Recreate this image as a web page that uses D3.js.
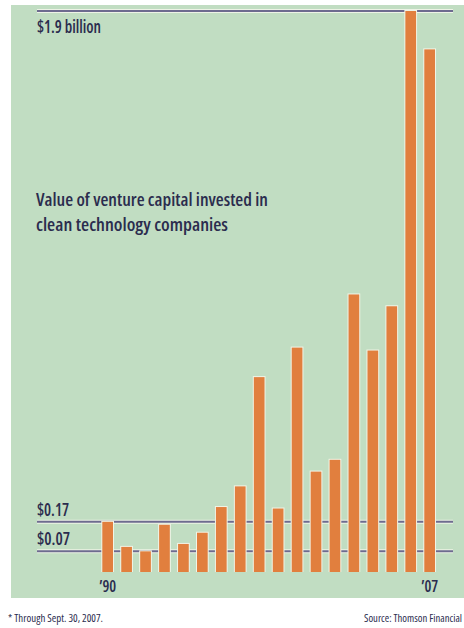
<!DOCTYPE html>
<html>
<head>
<meta charset="utf-8">
<script src="https://cdn.jsdelivr.net/npm/d3@7"></script>
<style>
  html, body { margin: 0; padding: 0; background: #ffffff; }
  svg { display: block; }
  text { font-family: "Open Sans", "DejaVu Sans Condensed", sans-serif; font-stretch: 75%; font-weight: 600; fill: #2b2c4e; }
  .note { font-weight: 400; }
</style>
</head>
<body>
<svg id="chart" width="464" height="628"></svg>
<script>
// Venture capital invested in clean technology companies, $ billions
const years = [1990, 1991, 1992, 1993, 1994, 1995, 1996, 1997, 1998,
               1999, 2000, 2001, 2002, 2003, 2004, 2005, 2006, 2007];
const values = [0.17, 0.085, 0.07, 0.16, 0.095, 0.133, 0.22, 0.29, 0.66,
                0.215, 0.76, 0.34, 0.38, 0.94, 0.75, 0.90, 1.9, 1.77];
const refValues = [0.07, 0.17, 1.9];
const refLabels = ["$0.07", "$0.17", "$1.9 billion"];
const refLabelWidths = [33, 32, 64];
const yearTicks = [1990, 2007];
const yearTickLabels = ["\u201990", "\u201907"];
const titleLines = ["Value of venture capital invested in", "clean technology companies"];
const titleWidths = [232, 192];
const footnote = "* Through Sept. 30, 2007.";
const source = "Source: Thomson Financial";

const svg = d3.select("#chart");

// panel background
svg.append("rect")
  .attr("x", 11).attr("y", 5)
  .attr("width", 453).attr("height", 593)
  .attr("fill", "#c1ddc2");

const x = d3.scaleBand()
  .domain(years)
  .range([102.3, 435])
  .paddingInner(0.435)
  .paddingOuter(0);

const y = d3.scaleLinear()
  .domain([0, 1.9])
  .range([572, 11]);

// reference lines with a pale halo
const refs = svg.append("g").selectAll("g")
  .data(refValues)
  .join("g");

refs.append("line")
  .attr("x1", 37).attr("x2", 453)
  .attr("y1", d => y(d)).attr("y2", d => y(d))
  .attr("stroke", "#eef3e6").attr("stroke-width", 4);
refs.append("line")
  .attr("x1", 37).attr("x2", 453)
  .attr("y1", d => y(d)).attr("y2", d => y(d))
  .attr("stroke", "#6d6b8f").attr("stroke-width", 2);

refs.append("text")
  .attr("x", 37)
  .attr("y", d => d >= 1 ? y(d) + 22 : y(d) - 6)
  .attr("font-size", 17)
  .attr("textLength", (d, i) => refLabelWidths[i])
  .attr("lengthAdjust", "spacingAndGlyphs")
  .text((d, i) => refLabels[i]);

// bars with a pale outline
const bars = svg.append("g");
bars.selectAll("rect.halo")
  .data(values)
  .join("rect")
  .attr("class", "halo")
  .attr("x", (d, i) => x(years[i]) - 1)
  .attr("width", x.bandwidth() + 2)
  .attr("y", d => y(d) - 1)
  .attr("height", d => y(0) - y(d) + 1)
  .attr("fill", "#f1f4e6");
bars.selectAll("rect.bar")
  .data(values)
  .join("rect")
  .attr("class", "bar")
  .attr("x", (d, i) => x(years[i]))
  .attr("width", x.bandwidth())
  .attr("y", d => y(d))
  .attr("height", d => y(0) - y(d))
  .attr("fill", "#e17f3e");

// year axis: first and last year only
const xAxis = d3.axisBottom(x)
  .tickValues(yearTicks)
  .tickSize(0)
  .tickPadding(9)
  .tickFormat(d => yearTickLabels[yearTicks.indexOf(d)]);
const gx = svg.append("g")
  .attr("transform", `translate(0,${y(0)})`)
  .call(xAxis);
gx.select(".domain").remove();
gx.selectAll("text")
  .attr("font-size", 16)
  .attr("font-family", null)
  .attr("textLength", 17)
  .attr("lengthAdjust", "spacingAndGlyphs")
  .style("fill", "#2b2c4e");

// title
titleLines.forEach((line, i) => {
  svg.append("text")
    .attr("x", 36).attr("y", 205.5 + i * 25.5)
    .attr("font-size", 18.5)
    .attr("textLength", titleWidths[i])
    .attr("lengthAdjust", "spacingAndGlyphs")
    .text(line);
});

// notes under the panel
svg.append("text")
  .attr("class", "note")
  .attr("x", 8).attr("y", 622)
  .attr("font-size", 10.5)
  .attr("textLength", 95)
  .attr("lengthAdjust", "spacingAndGlyphs")
  .text(footnote);
svg.append("text")
  .attr("class", "note")
  .attr("x", 364).attr("y", 622)
  .attr("font-size", 10.5)
  .attr("textLength", 98)
  .attr("lengthAdjust", "spacingAndGlyphs")
  .text(source);
</script>
</body>
</html>
